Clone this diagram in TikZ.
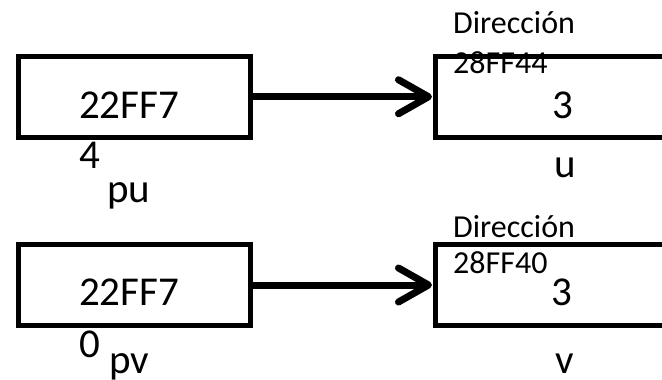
\documentclass[tikz,border=0pt]{standalone}
\usepackage{fontspec}
\setmainfont{Carlito}
\usetikzlibrary{arrows.meta}
\begin{document}
\begin{tikzpicture}[x=1pt,y=-1pt,
  membox/.style={draw,line width=5pt,inner sep=0pt,outer sep=0pt,minimum height=81.5pt},
  leftbox/.style={membox,minimum width=232pt},
  rightbox/.style={membox,minimum width=300pt,anchor=west},
  big/.style={font=\fontsize{41}{50}\selectfont,inner sep=0pt,anchor=base west},
  bigc/.style={font=\fontsize{41}{50}\selectfont,inner sep=0pt,anchor=base},
  small/.style={font=\fontsize{32}{38}\selectfont,inner sep=0pt,anchor=base west},
  ptr/.style={line width=7pt,-{Straight Barb[length=30pt,width=34pt,round]},shorten >=3pt}]
\clip (0,0) rectangle (662,380);
\fill[white] (0,0) rectangle (662,380);
% top row
\node[leftbox] (pa) at (134.5,96.75) {};
\node[rightbox] (ua) at (435,96.75) {};
\draw[ptr] (pa.east) -- (ua.west);
\node[big] (pat1) at (79,118) {22FF7};
\node[big] (pat2) at (79,168) {4};
\node[big] (pal) at (107,202) {pu};
\node[small] (ud1) at (453,33) {Dirección};
\node[small] (ud2) at (453,73) {28FF44};
\node[bigc] (uval) at (563,118) {3};
\node[bigc] (ulab) at (565,177) {u};
% bottom row
\node[leftbox] (pb) at (134.5,285) {};
\node[rightbox] (vb) at (435,285) {};
\draw[ptr] (pb.east) -- (vb.west);
\node[big] (pbt1) at (79,305) {22FF7};
\node[big] (pbt2) at (79,357) {0};
\node[big] (pbl) at (109,373) {pv};
\node[small] (vd1) at (453,237) {Dirección};
\node[small] (vd2) at (453,273) {28FF40};
\node[bigc] (vval) at (562,305) {3};
\node[bigc] (vlab) at (565,373) {v};
\end{tikzpicture}
\end{document}
